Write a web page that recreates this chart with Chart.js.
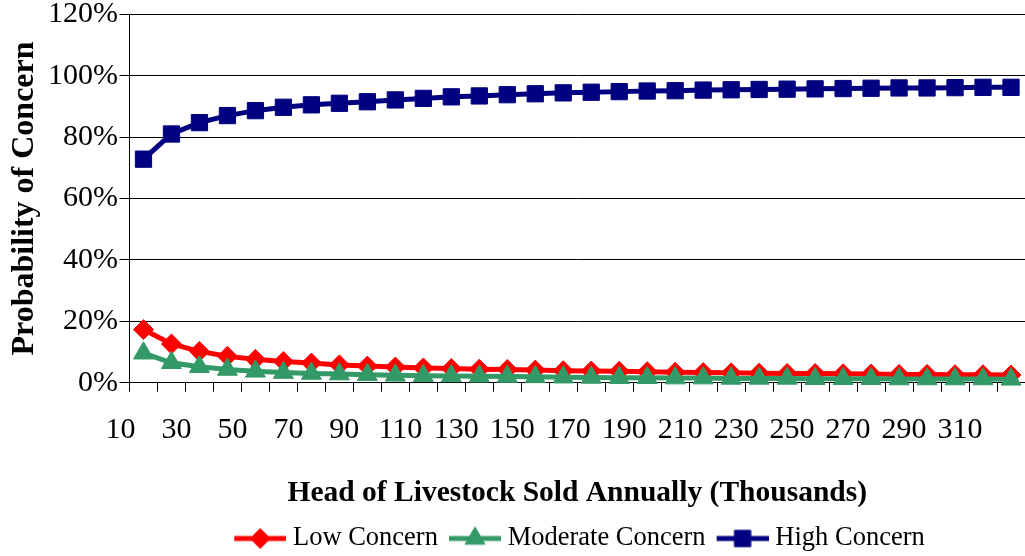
<!DOCTYPE html>
<html><head><meta charset="utf-8">
<script src="https://cdn.jsdelivr.net/npm/chart.js@4.4.1/dist/chart.umd.min.js"></script>
<style>
html,body{margin:0;padding:0;background:#fff;overflow:hidden;}
#c{display:block;}
</style></head><body>
<canvas id="c" width="1025" height="556" style="width:1025px;height:556px;"></canvas>
<script>
const categories = ['10','20','30','40','50','60','70','80','90','100','110','120','130','140','150','160',
  '170','180','190','200','210','220','230','240','250','260','270','280','290','300','310','320'];
const lowConcern = [17.3,12.6,10.2,8.6,7.6,6.9,6.4,5.8,5.4,5.1,4.8,4.6,4.4,4.3,4.1,3.9,
  3.8,3.7,3.6,3.4,3.3,3.2,3.1,3.0,3.0,2.9,2.8,2.7,2.7,2.6,2.6,2.5];
const moderateConcern = [9.6,6.5,5.2,4.3,3.7,3.3,3.0,2.8,2.6,2.4,2.3,2.2,2.1,2.0,1.9,1.8,
  1.7,1.6,1.6,1.5,1.5,1.4,1.4,1.4,1.3,1.3,1.3,1.2,1.2,1.2,1.2,1.1];
const highConcern = [72.8,81.0,84.7,87.0,88.6,89.7,90.5,91.0,91.5,92.1,92.6,93.1,93.4,93.8,94.1,94.4,
  94.6,94.8,95.0,95.1,95.3,95.4,95.5,95.6,95.7,95.8,95.9,96.0,96.0,96.1,96.2,96.2];
const seriesNames = ['Low Concern','Moderate Concern','High Concern'];
const yTickValues = [0,20,40,60,80,100,120];

const FONT = 'Liberation Serif';
const styles = [
  {color:'#FF0000', shape:'rectRot', r:10},
  {color:'#339966', shape:'triangle', r:11.5},
  {color:'#000080', shape:'rect', r:11.5}
];

function legendImage(st){
  const cv = document.createElement('canvas');
  cv.width = 63; cv.height = 28;
  const g = cv.getContext('2d');
  g.strokeStyle = st.color; g.lineWidth = 5;
  g.beginPath(); g.moveTo(11,14); g.lineTo(63,14); g.stroke();
  g.fillStyle = st.color; g.strokeStyle = st.color; g.lineWidth = 1;
  Chart.helpers.drawPoint(g, {pointStyle: st.shape, radius: st.r, rotation: 0, borderWidth: 1}, 37, 14);
  return cv;
}
const legendImgs = styles.map(legendImage);

const seriesData = [lowConcern, moderateConcern, highConcern];
const datasets = seriesData.map((d,i)=>({
  label: seriesNames[i],
  data: d,
  borderColor: styles[i].color,
  backgroundColor: styles[i].color,
  borderWidth: 5,
  tension: 0,
  pointStyle: styles[i].shape,
  pointRadius: styles[i].r,
  pointHoverRadius: styles[i].r,
  pointBackgroundColor: styles[i].color,
  pointBorderColor: styles[i].color,
  pointBorderWidth: 1,
  clip: false,
  order: [2,1,0][i]
}));

new Chart(document.getElementById('c'), {
  type: 'line',
  data: {labels: categories, datasets},
  options: {
    responsive: false,
    maintainAspectRatio: false,
    animation: false,
    devicePixelRatio: 1,
    layout: {autoPadding: false, padding: {left:0, top:14, right:0, bottom:-5.75}},
    plugins: {
      tooltip: {enabled:false},
      legend: {
        position: 'bottom',
        fullSize: false,
        labels: {
          usePointStyle: true,
          pointStyleWidth: 50,
          padding: 6.5,
          color: '#000',
          font: {family: FONT, size: 26.5},
          generateLabels: () => seriesNames.map((n,i)=>({
            text: n, pointStyle: legendImgs[i], fillStyle: styles[i].color,
            strokeStyle: styles[i].color, lineWidth: 0, hidden: false, datasetIndex: i, fontColor:'#000'
          }))
        }
      }
    },
    scales: {
      x: {
        type: 'category',
        offset: true,
        grid: {display: true, drawOnChartArea: false, drawTicks: true, tickLength: 9, offset: true, color: '#000'},
        border: {display: true, color: '#000', width: 1},
        ticks: {
          autoSkip: false, maxRotation: 0, minRotation: 0, padding: 0, labelOffset: -23,
          color: '#000', font: {family: FONT, size: 30, lineHeight: 2.55},
          callback: (v, idx) => (idx % 2 === 0 ? categories[idx] : '')
        },
        title: {display: true, text: 'Head of Livestock Sold Annually (Thousands)', color: '#000',
          font: {family: FONT, size: 29.5, weight: 'bold', lineHeight: 1.1}, padding: {top: 8.6, bottom: 9.5}}
      },
      y: {
        min: 0, max: 120,
        afterBuildTicks: (s) => { s.ticks = yTickValues.map(v => ({value: v})); },
        grid: {color: '#000', lineWidth: 1, tickLength: 10, drawTicks: true},
        border: {display: true, color: '#000', width: 1},
        ticks: {padding: 1.5, color: '#000', font: {family: FONT, size: 30, lineHeight: 0.85},
          callback: (v) => v + '%'},
        title: {display: true, text: 'Probability of Concern', color: '#000',
          font: {family: FONT, size: 32, weight: 'bold'}, padding: {top: 6, bottom: 2.1}}
      }
    }
  }
});
</script>
</body></html>
